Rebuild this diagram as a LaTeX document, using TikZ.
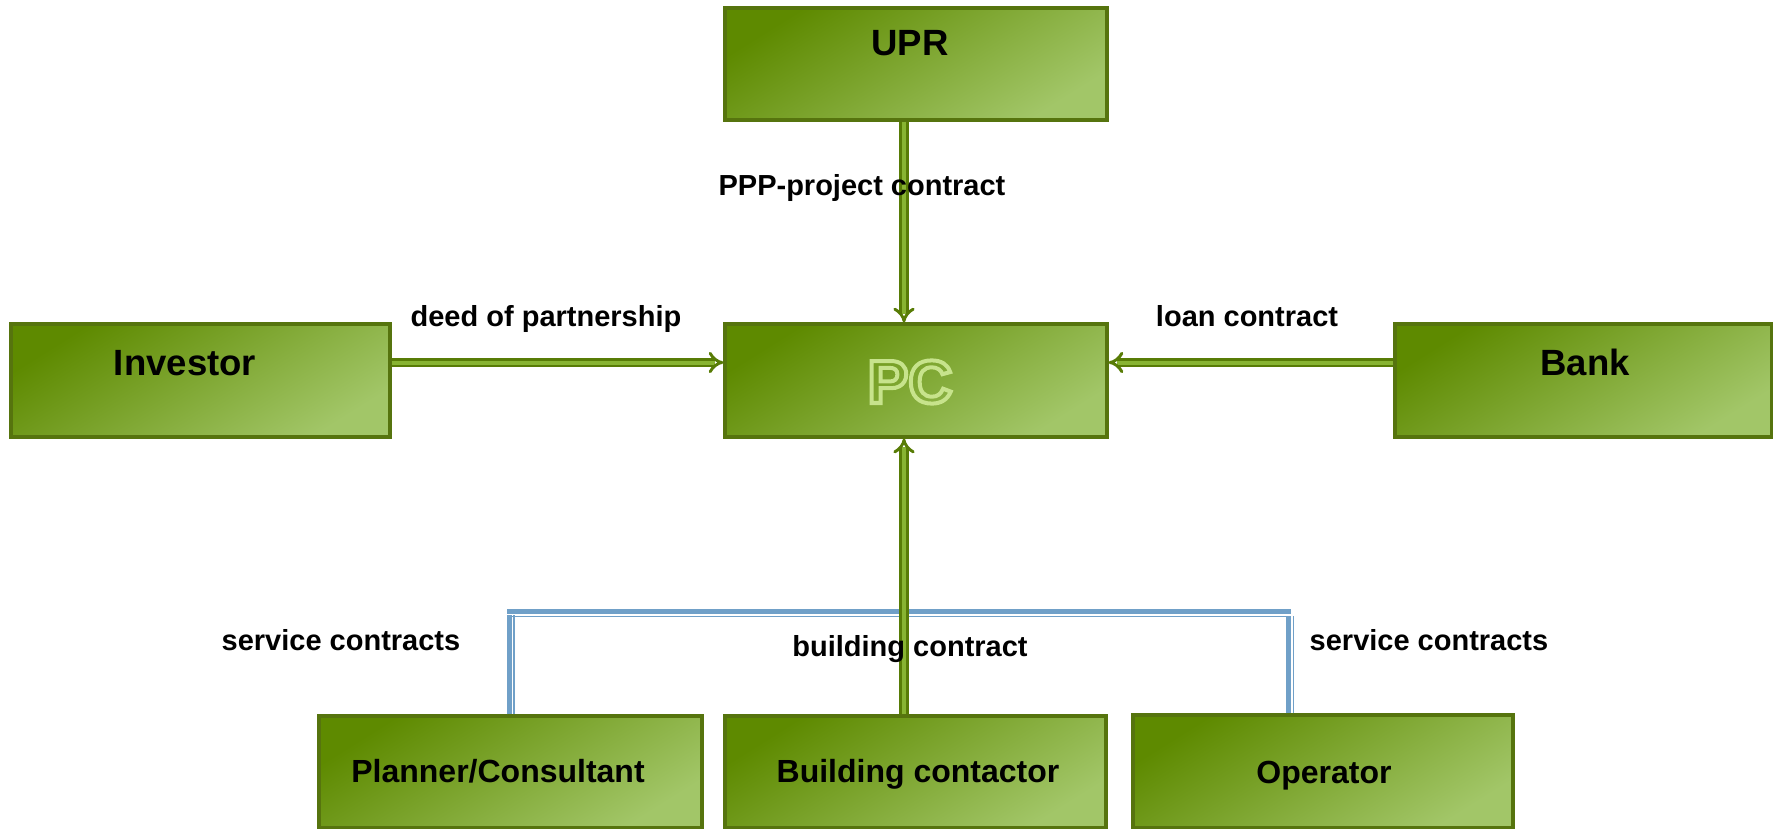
\documentclass[tikz,border=0pt]{standalone}
\usepackage{fontspec}
\setmainfont{Liberation Sans}
\usetikzlibrary{arrows.meta,calc}
\definecolor{gdark}{RGB}{94,138,0}
\definecolor{glight}{RGB}{162,198,104}
\definecolor{gborder}{RGB}{86,116,14}
\definecolor{arrdark}{RGB}{88,124,6}
\definecolor{arrlight}{RGB}{136,180,50}
\definecolor{bluel}{RGB}{112,160,200}
\tikzset{
  box/.style={draw=gborder, line width=2.4pt, top color=gdark, bottom color=glight, shading angle=32, inner sep=0pt},
  bigtxt/.style={anchor=base, inner sep=0pt, font=\bfseries\fontsize{27.4pt}{30pt}\selectfont},
  midtxt/.style={anchor=base, inner sep=0pt, font=\bfseries\fontsize{24pt}{28pt}\selectfont},
  lbl/.style={anchor=base, inner sep=0pt, font=\bfseries\fontsize{21.75pt}{26pt}\selectfont},
  garrow/.style={draw=arrdark, double=arrlight, line width=2.2pt, double distance=3pt, -{Implies}},
  bthick/.style={draw=bluel, line width=3.75pt},
  bthin/.style={draw=bluel, line width=1.1pt},
}
\begin{document}
\begin{tikzpicture}[x=0.75pt, y=-0.75pt]
\useasboundingbox (0,0) rectangle (1773,828);
% boxes
\node[box, minimum width=382*0.75pt, minimum height=112*0.75pt] (upr) at (916,64) {};
\node[box, minimum width=382*0.75pt, minimum height=113*0.75pt] (pc) at (916,380.5) {};
\node[box, minimum width=379*0.75pt, minimum height=113*0.75pt] (inv) at (200.5,380.5) {};
\node[box, minimum width=377*0.75pt, minimum height=113*0.75pt] (bank) at (1583.5,380.5) {};
\node[box, minimum width=383*0.75pt, minimum height=112*0.75pt] (plan) at (510.5,772) {};
\node[box, minimum width=381*0.75pt, minimum height=112*0.75pt] (build) at (915.5,772) {};
\node[box, minimum width=380*0.75pt, minimum height=113*0.75pt] (oper) at (1323,771.5) {};
% blue connectors
\coordinate (bl) at (507,611.5);
\coordinate (br) at (1291,611.5);
\draw[bthick] (bl) -- (br);
\draw[bthin] ($(bl)+(3,5)$) -- ($(br)+(0,5)$);
\draw[bthick] ($(plan.north)+(-1,0)$) -- ($(plan.north)+(-1,-99)$);
\draw[bthin] ($(plan.north)+(3.5,0)$) -- ($(plan.north)+(3.5,-99)$);
\draw[bthick] ($(oper.north)+(-34.5,0)$) -- ($(oper.north)+(-34.5,-97)$);
\draw[bthin] ($(oper.north)+(-29.5,0)$) -- ($(oper.north)+(-29.5,-97)$);
% green arrows
\draw[garrow] ($(upr.south)+(-12,0)$) -- ($(pc.north)+(-12,0)$);
\draw[garrow] ($(build.north)+(-11.5,0)$) -- ($(pc.south)+(-12,0)$);
\draw[garrow] ($(inv.east)+(0,-18)$) -- ($(pc.west)+(0,-18)$);
\draw[garrow] ($(bank.west)+(0,-18)$) -- ($(pc.east)+(0,-18)$);
% box texts
\node[bigtxt] (uprt) at (910,55) {UPR};
\node[bigtxt] (invt) at (185,375) {Investor};
\node[bigtxt] (bankt) at (1585,375) {Bank};
\node[anchor=base, inner sep=0pt, font=\bfseries\fontsize{45.75pt}{50pt}\selectfont, text=glight] (pct) at (910,403)
  {\special{pdf:literal direct 1 Tr 3 w 0.78 0.89 0.55 RG}PC\special{pdf:literal direct 0 Tr}};
\node[midtxt] (plant) at (498,782) {Planner/Consultant};
\node[midtxt] (buildt) at (918,782) {Building contactor};
\node[midtxt] (opert) at (1324,783) {Operator};
% labels
\node[lbl] (l1) at (862,195) {PPP-project contract};
\node[lbl] (l2) at (546,326) {deed of partnership};
\node[lbl] (l3) at (1247,326) {loan contract};
\node[lbl] (l4) at (341,650) {service contracts};
\node[lbl] (l5) at (910,656) {building contract};
\node[lbl] (l6) at (1429,650) {service contracts};
\end{tikzpicture}
\end{document}
